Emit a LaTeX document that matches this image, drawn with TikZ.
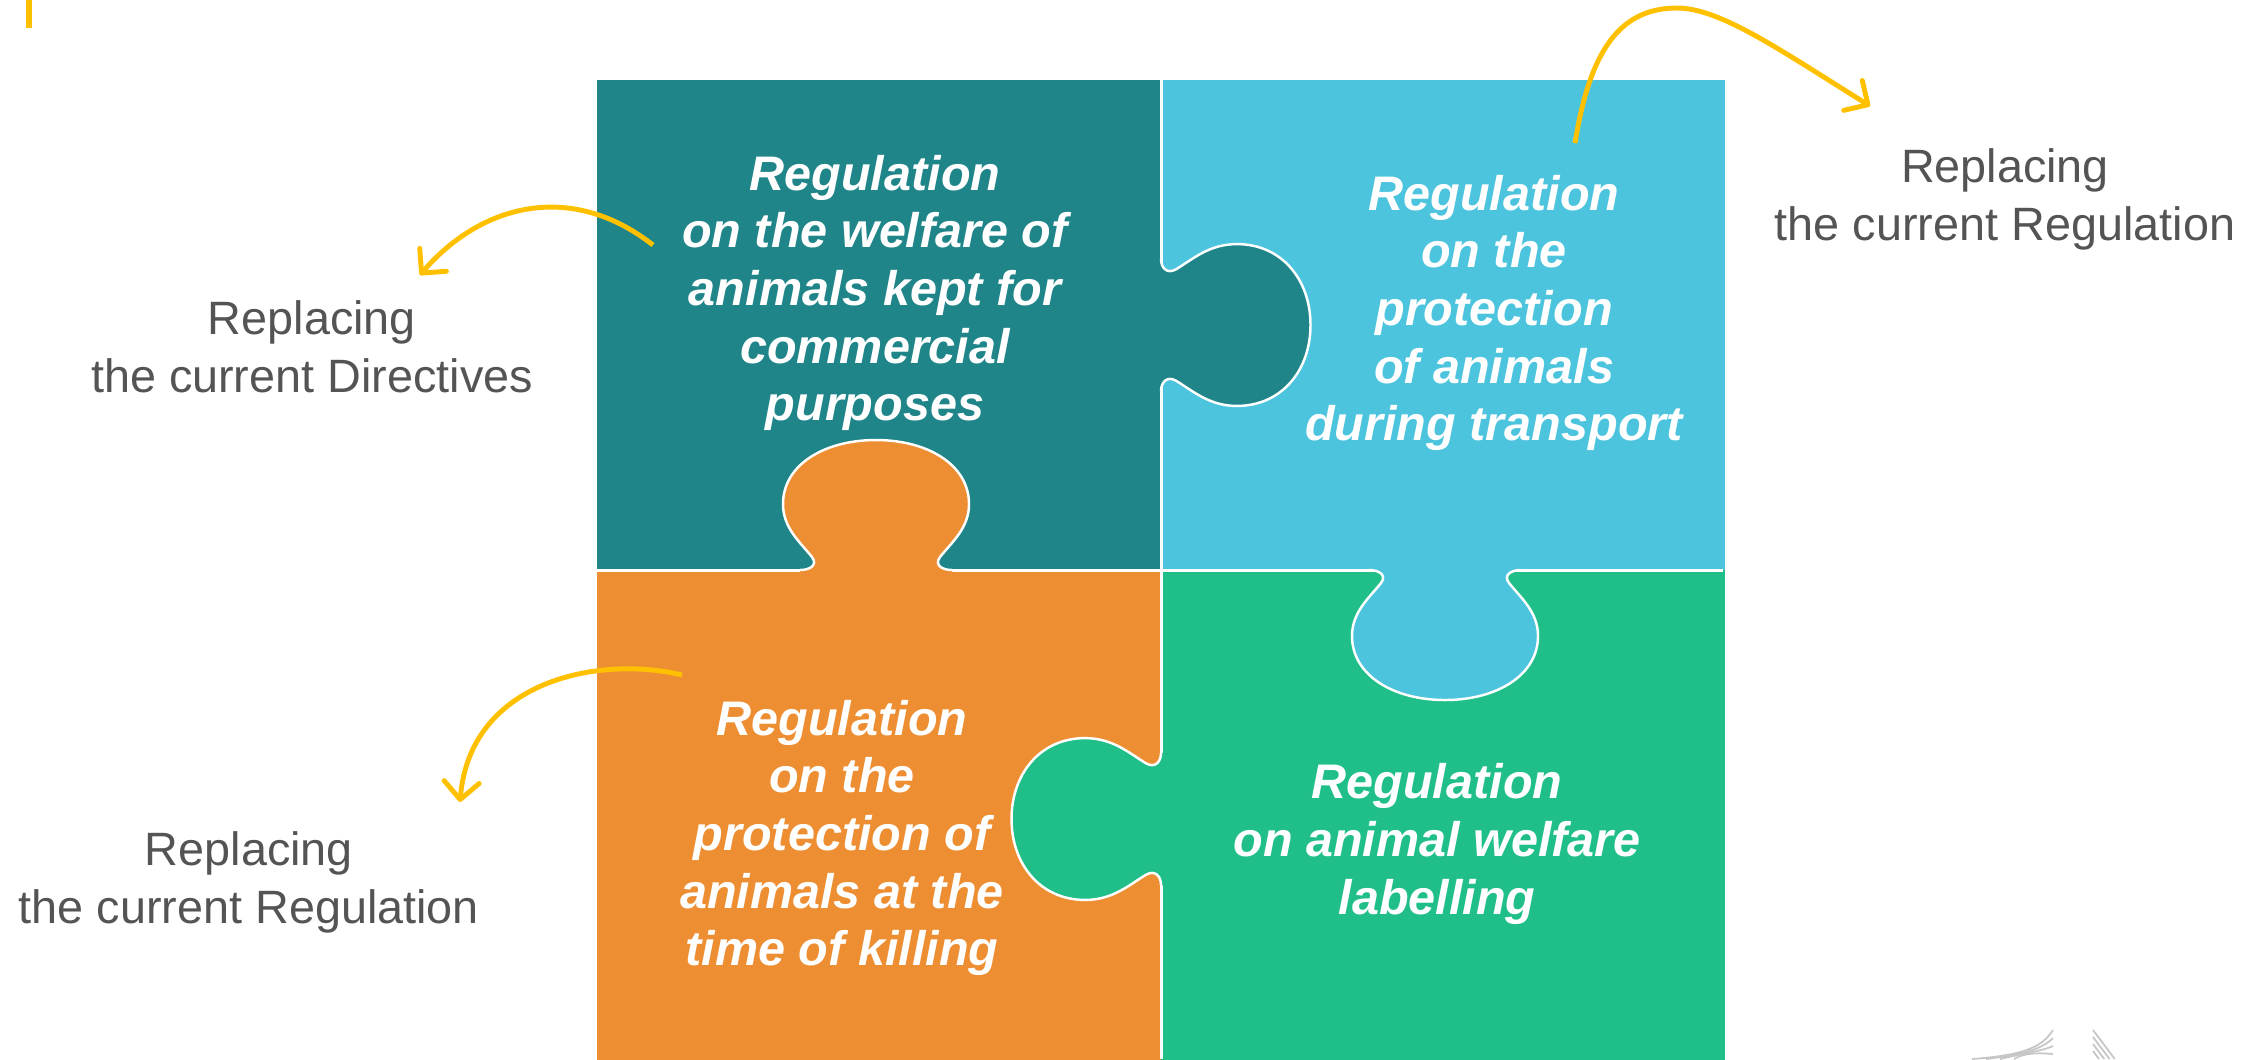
\documentclass[tikz,border=0pt]{standalone}
\usepackage{fontspec}
\setmainfont{Liberation Sans}
\usetikzlibrary{arrows.meta}

\definecolor{pzteal}{HTML}{1F8589}
\definecolor{pzcyan}{HTML}{4CC4DE}
\definecolor{pzorange}{HTML}{EE8E32}
\definecolor{pzgreen}{HTML}{20BF8A}
\definecolor{pzyellow}{HTML}{FFC000}
\definecolor{labelgray}{HTML}{545454}

% one puzzle knob, base on the x axis, bulb pointing up
\newcommand{\knobcurve}{(-76,0) .. controls (-66,0) and (-58,-5) .. (-64,-13)
  .. controls (-76,-28) and (-93,-42) .. (-93,-66)
  .. controls (-93,-105) and (-52,-130) .. (0,-130)
  .. controls (52,-130) and (93,-105) .. (93,-66)
  .. controls (93,-42) and (76,-28) .. (64,-13)
  .. controls (58,-5) and (66,0) .. (76,0)}

\begin{document}
\begin{tikzpicture}[x=0.01cm,y=-0.01cm,
    piecetext/.style={text=white, align=center,
      font=\bfseries\itshape\fontsize{13.8}{16.4}\selectfont},
    labeltext/.style={text=labelgray, align=center,
      font=\fontsize{13.3}{16.5}\selectfont},
    divider/.style={draw=white, line width=0.85pt},
    knobedge/.style={draw=white, line width=0.7pt},
    arrowline/.style={draw=pzyellow, line width=1.4pt,
      -{Straight Barb[length=5pt, width=10pt, round]}}]

    \useasboundingbox (0,0) rectangle (2267,1059);

    % The four pieces
    \foreach \x/\y/\col in {597/80/pzteal, 1161/80/pzcyan, 597/570/pzorange, 1161/570/pzgreen} {
      \pgfmathsetmacro\xx{\x + 564}
      \pgfmathsetmacro\yy{\y + 490}
      \fill[\col] (\x,\y) rectangle (\xx,\yy);
    }
    \draw[divider] (1161,80) -- (1161,1059);
    \draw[divider] (597,570) -- (1723,570);

    % Knobs (centre on the seam, rotation, stretch, colour of the owner)
    \foreach \cx/\cy/\ang/\sx/\sy/\col in {876/570/0/1/1/pzorange,
        1161/325/-90/1.15/0.87/pzteal, 1445/570/180/1/1/pzcyan,
        1161/819/90/1.15/0.87/pzgreen} {
      \begin{scope}[shift={(\cx,\cy)}, xscale=\sx, yscale=\sy, rotate=\ang]
        \fill[\col] \knobcurve -- (76,4) -- (-76,4) -- cycle;
        \draw[knobedge] \knobcurve;
      \end{scope}
    }

    % Piece texts
    \node[piecetext] (welfare) at (875,293)
      {Regulation\\on the welfare of\\animals kept for\\commercial\\purposes};
    \node[piecetext] (transport) at (1494,313)
      {Regulation\\on the\\protection\\of animals\\during transport};
    \node[piecetext] (killing) at (842,838)
      {Regulation\\on the\\protection of\\animals at the\\time of killing};
    \node[piecetext] (labelling) at (1437,844)
      {Regulation\\on animal welfare\\labelling};

    % Side labels
    \node[labeltext] (directives) at (312,347) {Replacing\\the current Directives};
    \node[labeltext] (transpreg) at (2005,199) {Replacing\\the current Regulation};
    \node[labeltext] (killreg) at (249,882) {Replacing\\the current Regulation};

    % Arrows
    \coordinate (dirStart) at (653,245);
    \coordinate (dirEnd) at (420,275);
    \coordinate (traStart) at (1575,143);
    \coordinate (traTop) at (1677,8);
    \coordinate (traEnd) at (1870,106);
    \coordinate (kilStart) at (682,675);
    \coordinate (kilEnd) at (460,802);

    \draw[arrowline] (dirStart) .. controls (570,180) and (480,205) .. (dirEnd);
    \draw[arrowline] (traStart) .. controls (1590,50) and (1620,8) .. (traTop)
      .. controls (1720,8) and (1780,50) .. (traEnd);
    \draw[arrowline] (kilStart) .. controls (600,655) and (470,680) .. (kilEnd);

    % Corner marks
    \fill[pzyellow] (26,0) rectangle (32,28);
    \foreach \k in {0,1,2,3} {
      \draw[gray!45, line width=0.5pt] (1972+14*\k,1059) .. controls (2025,1055-\k)
        and (2042,1047+2*\k) .. (2053,1030+8*\k);
      \pgfmathsetmacro\ys{1030+7*\k}
      \pgfmathsetmacro\xe{2093+0.75*(1059-\ys)}
      \draw[gray!45, line width=0.5pt] (2093,\ys) -- (\xe,1059);
    }

  \end{tikzpicture}
\end{document}
